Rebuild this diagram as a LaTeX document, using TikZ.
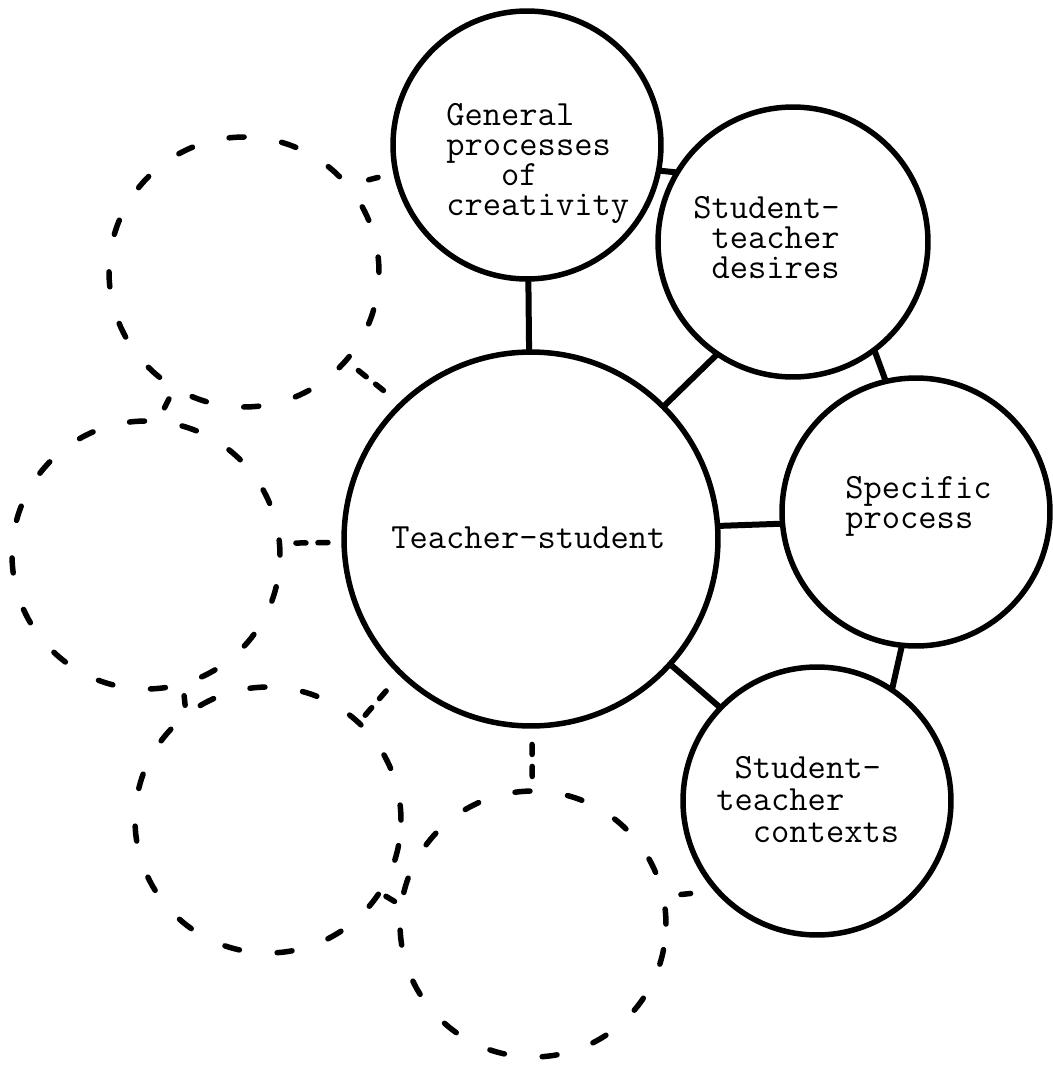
\documentclass[tikz,border=0pt]{standalone}
\begin{document}
\begin{tikzpicture}[x=0.02cm, y=-0.02cm,
  bubble/.style={circle, draw, line width=0.11cm, inner sep=0pt, outer sep=0pt},
  ghost/.style={circle, draw, line width=0.11cm, inner sep=0pt, outer sep=0pt,
                line cap=round, dash pattern=on 0.3cm off 0.76cm},
  link/.style={line width=0.12cm},
  dlink/.style={line width=0.11cm, line cap=round, dash pattern=on 0.2cm off 0.24cm},
  words/.style={anchor=base west, inner sep=0pt, align=left,
                font={\ttfamily\fontsize{20.2}{17}\selectfont\lineskiplimit=-100pt}}
]
\useasboundingbox (0,0) rectangle (1052,1065);

% solid circles
\node[bubble, minimum size=7.48cm] (central) at (531,539) {};
\node[bubble, minimum size=5.36cm] (gen)  at (527,145) {};
\node[bubble, minimum size=5.40cm] (des)  at (793,242) {};
\node[bubble, minimum size=5.36cm] (spec) at (916,512) {};
\node[bubble, minimum size=5.36cm] (ctx)  at (817,801) {};

% dashed circles
\node[ghost, minimum size=5.40cm] (dA) at (244,272) {};
\node[ghost, minimum size=5.36cm] (dB) at (146,555) {};
\node[ghost, minimum size=5.32cm] (dC) at (268,820) {};
\node[ghost, minimum size=5.32cm] (dD) at (533,924) {};

% texts (anchored at the baseline of the last line)
\node[words] (tcentral) at (391,548) {Teacher-student};
\node[words] (tgen) at (446,215) {General\\processes\\~~~of\\creativity};
\node[words] (tdes) at (693,278) {Student-\\~teacher\\~desires};
\node[words] (tspec) at (845,528) {Specific\\process};
\node[words, font={\ttfamily\fontsize{20.2}{18.1}\selectfont\lineskiplimit=-100pt}]
  (tctx) at (716,842) {~Student-\\teacher\\~~contexts};

% solid links
\draw[link] (gen) -- (central);
\draw[link] (gen.-11) -- (des.149);
\draw[link] (des.-124) -- (central.45);
\draw[link] (des.-53) -- (spec.103);
\draw[link] (central.4) -- (spec.185);
\draw[link] (spec.-96) -- (ctx.56);
\draw[link] (central.-42) -- (ctx.136);

% dashed links
\draw[dlink, shorten <=0.44cm, shorten >=0.37cm] (dA.40) -- (gen.192);
\draw[dlink, shorten <=0.32cm, shorten >=0.44cm] (dA.-41) -- (central.134);
\draw[dlink, shorten <=0.25cm, shorten >=0.30cm] (dA.239) -- (dB.85);
\draw[dlink, shorten <=0.33cm, shorten >=0.32cm] (dB.5) -- (central.181);
\draw[dlink, shorten <=0.24cm, shorten >=0.20cm] (dB.-74) -- (dC.128);
\draw[dlink, shorten <=0.20cm, shorten >=0.46cm] (dC.47.5) -- (central.-134);
\draw[dlink, shorten <=0.15cm, shorten >=0.15cm] (dC.-33) -- (dD.172);
\draw[dlink, shorten <=0.37cm, shorten >=0.28cm] (central) -- (dD);
\draw[dlink, shorten <=0.36cm, shorten >=0.54cm] (dD.12) -- (ctx.222);
\end{tikzpicture}
\end{document}
